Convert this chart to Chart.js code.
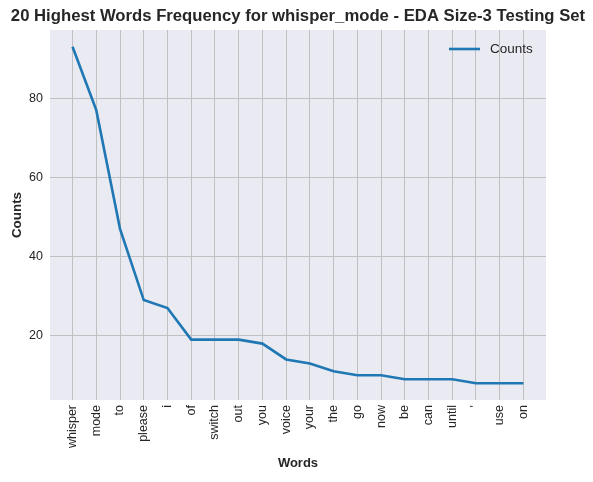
<!DOCTYPE html>
<html>
<head>
<meta charset="utf-8">
<script src="https://cdn.jsdelivr.net/npm/chart.js@4"></script>
<style>
  html, body { margin: 0; padding: 0; background: #fff; }
  #wrap { width: 593px; height: 482px; }
</style>
</head>
<body>
<div id="wrap"><canvas id="wordChart" width="593" height="482"></canvas></div>
<script>
// Word counts
const words = ['whisper', 'mode', 'to', 'please', 'i', 'of', 'switch', 'out', 'you', 'voice',
               'your', 'the', 'go', 'now', 'be', 'can', 'until', "'", 'use', 'on'];
const counts = [93, 77, 47, 29, 27, 19, 19, 19, 18, 14, 13, 11, 10, 10, 9, 9, 9, 8, 8, 8];
const yTicks = [20, 40, 60, 80];
const chartTitle = '20 Highest Words Frequency for whisper_mode - EDA Size-3 Testing Set';

const FONT = '"Liberation Sans", Arial, sans-serif';
const TEXT = '#262626';

// Paint the grey panel behind the plot area
const panelBg = {
    id: 'panelBg',
    beforeDraw(chart) {
        const { ctx, chartArea: a } = chart;
        ctx.save();
        ctx.fillStyle = '#eaeaf2';
        ctx.fillRect(a.left, a.top, a.right - a.left, a.bottom - a.top);
        ctx.restore();
    }
};

// Title centred over the plot area (like matplotlib), legend inside upper right
const overlay = {
    id: 'overlay',
    afterDatasetsDraw(chart) {
        const { ctx, chartArea: a } = chart;
        const ds = chart.data.datasets[0];
        ctx.save();
        ctx.fillStyle = TEXT;
        ctx.font = 'bold 16.7px ' + FONT;
        ctx.textAlign = 'center';
        ctx.textBaseline = 'middle';
        ctx.fillText(chartTitle, (a.left + a.right) / 2, 16);

        const y = a.top + 19;
        const x0 = a.right - 97;
        ctx.strokeStyle = ds.borderColor;
        ctx.lineWidth = ds.borderWidth;
        ctx.beginPath();
        ctx.moveTo(x0, y);
        ctx.lineTo(x0 + 31, y);
        ctx.stroke();
        ctx.font = '13.5px ' + FONT;
        ctx.textAlign = 'left';
        ctx.fillText(ds.label, x0 + 41, y);
        ctx.restore();
    }
};

const ctx = document.getElementById('wordChart').getContext('2d');
new Chart(ctx, {
    type: 'line',
    data: {
        datasets: [{
            label: 'Counts',
            data: counts.map((v, i) => ({ x: i, y: v })),
            borderColor: '#1f77b4',
            backgroundColor: '#1f77b4',
            borderWidth: 2.6,
            pointRadius: 0,
            tension: 0,
            fill: false
        }]
    },
    options: {
        responsive: false,
        animation: false,
        layout: { padding: { top: 30, right: 47, bottom: 0, left: 0 } },
        plugins: {
            title: { display: false },
            legend: { display: false },
            tooltip: { enabled: false }
        },
        scales: {
            x: {
                type: 'linear',
                min: -0.95,
                max: 19.95,
                afterBuildTicks: s => { s.ticks = words.map((w, i) => ({ value: i })); },
                afterFit: s => { s.height = 82; },
                border: { display: false },
                grid: { color: '#c0c0c0', lineWidth: 1, drawTicks: false },
                ticks: {
                    autoSkip: false,
                    minRotation: 90,
                    maxRotation: 90,
                    padding: 5,
                    color: TEXT,
                    font: { family: FONT, size: 12.5 },
                    callback: v => words[v]
                },
                title: {
                    display: true,
                    text: 'Words',
                    color: TEXT,
                    font: { family: FONT, size: 13, weight: 'bold' },
                    padding: { top: 4, bottom: 11 }
                }
            },
            y: {
                min: 3.75,
                max: 97.25,
                afterBuildTicks: s => { s.ticks = yTicks.map(v => ({ value: v })); },
                afterFit: s => { s.width = 50; },
                border: { display: false },
                grid: { color: '#c0c0c0', lineWidth: 1, drawTicks: false },
                ticks: {
                    padding: 7,
                    color: TEXT,
                    font: { family: FONT, size: 12.5 }
                },
                title: {
                    display: true,
                    text: 'Counts',
                    color: TEXT,
                    font: { family: FONT, size: 13.4, weight: 'bold' },
                    padding: { top: 9, bottom: 0 }
                }
            }
        }
    },
    plugins: [panelBg, overlay]
});
</script>
</body>
</html>
